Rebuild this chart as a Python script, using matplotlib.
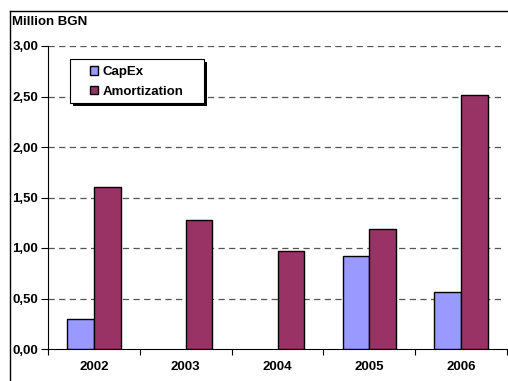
import matplotlib
matplotlib.use("Agg")
import matplotlib.pyplot as plt
import numpy as np
from matplotlib.lines import Line2D
from matplotlib.patches import Rectangle

years = ["2002", "2003", "2004", "2005", "2006"]
capex = [0.30, 0.0, 0.0, 0.92, 0.56]
amortization = [1.60, 1.28, 0.97, 1.19, 2.51]
yticks = [0.0, 0.5, 1.0, 1.5, 2.0, 2.5, 3.0]
ytick_labels = ["0,00", "0,50", "1,00", "1,50", "2,00", "2,50", "3,00"]

plt.rcParams['font.family'] = ['Liberation Sans', 'DejaVu Sans']
plt.rcParams['font.weight'] = 'bold'

FS = 9.5
W, H = 508, 381
fig = plt.figure(figsize=(W/100, H/100), dpi=100)
fig.patch.set_facecolor('white')

def px(xp, yp):
    return (xp / W, (H - yp) / H)

ax = fig.add_axes([48/W, (H-349)/H, (507-48)/W, (349-46)/H])
x = np.arange(len(years))
bw = 0.29
capex_plot = [v if v > 0 else np.nan for v in capex]
ax.bar(x - bw/2, capex_plot, bw, color='#9999FF', edgecolor='black', linewidth=1.0, label='CapEx', zorder=3)
ax.bar(x + bw/2, amortization, bw, color='#993366', edgecolor='black', linewidth=1.0, label='Amortization', zorder=3)

ax.set_xlim(-0.5, len(years) - 0.5)
ax.set_ylim(0, 3.0)
ax.set_yticks(yticks)
ax.set_yticklabels(ytick_labels, fontsize=FS, fontweight='bold')
ax.set_xticks(x)
ax.set_xticklabels(years, fontsize=FS, fontweight='bold')
ax.tick_params(axis='x', which='major', length=0, pad=9)
ax.set_xticks(np.arange(-0.5, len(years)), minor=True)
ax.tick_params(axis='x', which='minor', length=4, direction='out', width=0.8)
ax.tick_params(axis='y', length=5, direction='out', width=0.8, pad=2)

for yv in yticks[1:]:
    ax.axhline(yv, color='#555555', linestyle=(0, (5, 3.5)), linewidth=0.9, zorder=1, xmax=0.99)

for s in ['top', 'right']:
    ax.spines[s].set_visible(False)
ax.spines['left'].set_linewidth(0.8)
ax.spines['bottom'].set_linewidth(0.8)

# legend frame with shadow
x0, y0, x1, y1 = 70, 59, 204, 103
sh = Rectangle(px(x0 + 3, y1 + 3), (x1 - x0) / W, (y1 - y0) / H, transform=fig.transFigure,
               facecolor='black', edgecolor='none', zorder=6, clip_on=False)
fr = Rectangle(px(x0, y1), (x1 - x0) / W, (y1 - y0) / H, transform=fig.transFigure,
               facecolor='white', edgecolor='black', linewidth=0.8, zorder=6.5, clip_on=False)
ax.add_artist(sh)
ax.add_artist(fr)

leg = ax.legend(loc='upper left', bbox_to_anchor=px(90, 66), bbox_transform=fig.transFigure,
                frameon=False, fontsize=FS, handlelength=0.6, handleheight=0.6,
                handletextpad=0.35, borderpad=0, labelspacing=0.6, borderaxespad=0)
for t in leg.get_texts():
    t.set_fontweight('bold')
leg.set_zorder(7)

fig.text(12/W, (H-22)/H, "Million BGN", fontsize=FS, fontweight='bold', va='center', ha='left')

fig.add_artist(Line2D([10/W, 10/W], [0, (H-11)/H], color='black', linewidth=1.0, transform=fig.transFigure))
fig.add_artist(Line2D([10/W, 1.0], [(H-11)/H, (H-11)/H], color='black', linewidth=1.0, transform=fig.transFigure))

fig.savefig("out.png", dpi=100)
